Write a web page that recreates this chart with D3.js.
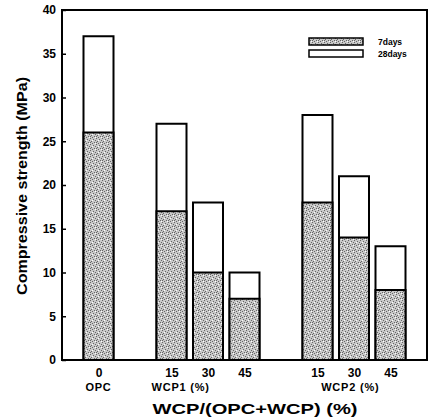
<!DOCTYPE html>
<html><head><meta charset="utf-8">
<script src="https://cdn.jsdelivr.net/npm/d3@7"></script>
<style>body{margin:0;background:#fff}svg{display:block}text{font-family:"Liberation Sans",Arial,sans-serif;font-weight:bold}</style>
</head><body>
<svg id="c" width="436" height="419"></svg>
<script>
const slots = [0, 2, 3, 4, 6, 7, 8];
const tickLabels = ["0", "15", "30", "45", "15", "30", "45"];
const groups = [{label: "OPC", slot: 0}, {label: "WCP1 (%)", slot: 2.25}, {label: "WCP2 (%)", slot: 6.9}];
const days7 = [26, 17, 10, 7, 18, 14, 8];
const days28 = [37, 27, 18, 10, 28, 21, 13];
const yTicks = [0, 5, 10, 15, 20, 25, 30, 35, 40];
const seriesNames = ["7days", "28days"];

const svg = d3.select("#c");
const L = 62, R = 427, T = 10, B = 360;
const x = d3.scaleLinear().domain([-1, 9]).range([L, R]);
const y = d3.scaleLinear().domain([0, 40]).range([B, T]);
const bw = 30;

const defs = svg.append("defs");
const pat = defs.append("pattern").attr("id", "stip").attr("patternUnits", "userSpaceOnUse")
  .attr("width", 6).attr("height", 6);
pat.append("rect").attr("width", 6).attr("height", 6).attr("fill", "#c8c8c8");
[[0,0],[3,1],[1,3],[4,4],[2,5],[5,2],[0,4]].forEach(([a,b]) =>
  pat.append("rect").attr("x", a).attr("y", b).attr("width", 1).attr("height", 1).attr("fill", "#666"));
[[2,2],[5,5]].forEach(([a,b]) =>
  pat.append("rect").attr("x", a).attr("y", b).attr("width", 1).attr("height", 1).attr("fill", "#fff"));

// bars: 28 days (white, behind), 7 days (stippled, front)
svg.append("g").selectAll("rect").data(days28).join("rect")
  .attr("x", (d, i) => x(slots[i]) - bw / 2).attr("width", bw)
  .attr("y", d => y(d)).attr("height", d => y(0) - y(d))
  .attr("fill", "#fff").attr("stroke", "#000").attr("stroke-width", 2);
svg.append("g").selectAll("rect").data(days7).join("rect")
  .attr("x", (d, i) => x(slots[i]) - bw / 2).attr("width", bw)
  .attr("y", d => y(d)).attr("height", d => y(0) - y(d))
  .attr("fill", "url(#stip)").attr("stroke", "#000").attr("stroke-width", 2);

// frame
svg.append("rect").attr("x", L).attr("y", T).attr("width", R - L).attr("height", B - T)
  .attr("fill", "none").attr("stroke", "#000").attr("stroke-width", 2);

// y axis
const ya = svg.append("g").attr("transform", `translate(${L},0)`)
  .call(d3.axisLeft(y).tickValues(yTicks).tickSize(-4).tickPadding(6).tickFormat(d3.format("d")));
ya.select(".domain").remove();
ya.selectAll("line").attr("stroke", "#000").attr("stroke-width", 1.5);
ya.selectAll("text").attr("font-size", 12).attr("font-weight", "bold").attr("fill", "#000")
  .attr("font-family", "Liberation Sans, Arial, sans-serif");

// x tick labels
const xa = svg.append("g").attr("transform", `translate(0,${B})`)
  .call(d3.axisBottom(x).tickValues(slots).tickSize(0).tickPadding(8)
    .tickFormat((d) => tickLabels[slots.indexOf(d)]));
xa.select(".domain").remove();
xa.selectAll("text").attr("font-size", 12).attr("font-weight", "bold").attr("fill", "#000")
  .attr("font-family", "Liberation Sans, Arial, sans-serif");

svg.append("g").selectAll("text").data(groups).join("text")
  .attr("x", d => x(d.slot)).attr("y", 391).attr("text-anchor", "middle")
  .attr("font-size", 11).attr("letter-spacing", 0.8).text(d => d.label);

svg.append("text").attr("x", 255).attr("y", 414).attr("text-anchor", "middle")
  .attr("font-family", "DejaVu Sans, sans-serif")
  .attr("font-size", 15).attr("textLength", 205).attr("lengthAdjust", "spacingAndGlyphs")
  .text("WCP/(OPC+WCP) (%)");
svg.append("text").attr("transform", `translate(27,186) rotate(-90)`)
  .attr("text-anchor", "middle").attr("font-family", "DejaVu Sans, sans-serif").attr("font-size", 14)
  .attr("textLength", 218).attr("lengthAdjust", "spacingAndGlyphs").text("Compressive strength (MPa)");

// legend
const lg = svg.append("g");
seriesNames.forEach((n, i) => {
  lg.append("rect").attr("x", 309).attr("y", 38 + i * 12).attr("width", 54).attr("height", 7)
    .attr("fill", i === 0 ? "url(#stip)" : "#fff").attr("stroke", "#000").attr("stroke-width", 1.5);
  lg.append("text").attr("x", 378).attr("y", 45 + i * 12).attr("font-size", 8.5).text(n);
});
</script>
</body></html>
